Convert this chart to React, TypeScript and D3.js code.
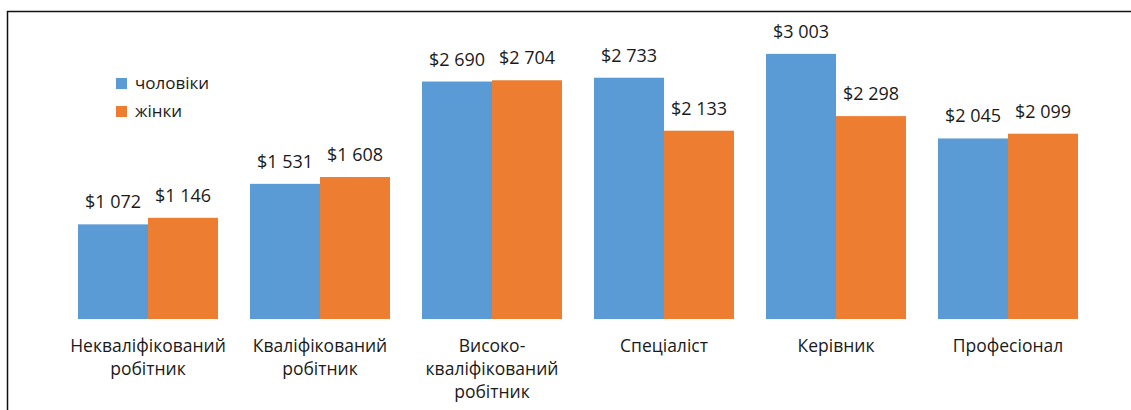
import React, { useEffect, useRef } from "react";
import * as d3 from "d3";

const W = 1131;
const H = 410;

const categories = [
  ["Некваліфікований", "робітник"],
  ["Кваліфікований", "робітник"],
  ["Високо-", "кваліфікований", "робітник"],
  ["Спеціаліст"],
  ["Керівник"],
  ["Професіонал"],
];
const seriesNames = ["чоловіки", "жінки"];
const men = [1072, 1531, 2690, 2733, 3003, 2045];
const women = [1146, 1608, 2704, 2133, 2298, 2099];

const COLORS = ["#5B9BD5", "#ED7D31"];
const FONT = "'Open Sans', 'DejaVu Sans', sans-serif";

const fmt = (v: number) => "$" + d3.format(",")(v).replace(/,/g, " ");

export default function App() {
  const ref = useRef<SVGSVGElement>(null);

  useEffect(() => {
    const svg = d3.select(ref.current);
    svg.selectAll("*").remove();

    // chart frame (cropped at right and bottom in the picture)
    svg.append("rect")
      .attr("x", 7.5).attr("y", 11.5)
      .attr("width", W + 20).attr("height", H + 20)
      .attr("fill", "white")
      .attr("stroke", "#111").attr("stroke-width", 1.5);

    const keys = categories.map((c, i) => String(i));
    const x0 = d3.scaleBand<string>()
      .domain(keys)
      .range([62, 62 + 6 * 172])
      .paddingInner(32 / 172)
      .paddingOuter(16 / 172);
    const x1 = d3.scaleBand<string>()
      .domain(["0", "1"])
      .range([0, x0.bandwidth()]);
    const y = d3.scaleLinear().domain([0, 3500]).range([319, 10]);

    const g = svg.append("g");
    const groups = g.selectAll("g.grp")
      .data(keys)
      .join("g")
      .attr("class", "grp")
      .attr("transform", (d) => `translate(${x0(d)},0)`);

    groups.each(function (d, i) {
      const grp = d3.select(this);
      const vals = [men[i], women[i]];
      vals.forEach((v, s) => {
        grp.append("rect")
          .attr("x", x1(String(s))!)
          .attr("y", y(v))
          .attr("width", x1.bandwidth())
          .attr("height", y(0) - y(v))
          .attr("fill", COLORS[s]);
        grp.append("text")
          .attr("x", x1(String(s))! + x1.bandwidth() / 2)
          .attr("y", y(v) - 16)
          .attr("text-anchor", "middle")
          .attr("font-family", FONT)
          .attr("font-size", 18)
          .attr("fill", "#1a1a1a")
          .text(fmt(v));
      });
      const lines = categories[i];
      lines.forEach((line, k) => {
        grp.append("text")
          .attr("x", x0.bandwidth() / 2)
          .attr("y", 352 + k * 23)
          .attr("text-anchor", "middle")
          .attr("font-family", FONT)
          .attr("font-size", 17.5)
          .attr("fill", "#1a1a1a")
          .text(line);
      });
    });

    // legend
    const legend = svg.append("g").attr("transform", "translate(116,78)");
    seriesNames.forEach((name, i) => {
      legend.append("rect")
        .attr("x", 0).attr("y", i * 28)
        .attr("width", 11).attr("height", 11)
        .attr("fill", COLORS[i]);
      legend.append("text")
        .attr("x", 19).attr("y", i * 28 + 11)
        .attr("font-family", FONT)
        .attr("font-size", 17)
        .attr("fill", "#1a1a1a")
        .text(name);
    });
  }, []);

  return (
    <svg
      ref={ref}
      width={W}
      height={H}
      style={{ position: "absolute", left: 0, top: 0, background: "white" }}
    />
  );
}
